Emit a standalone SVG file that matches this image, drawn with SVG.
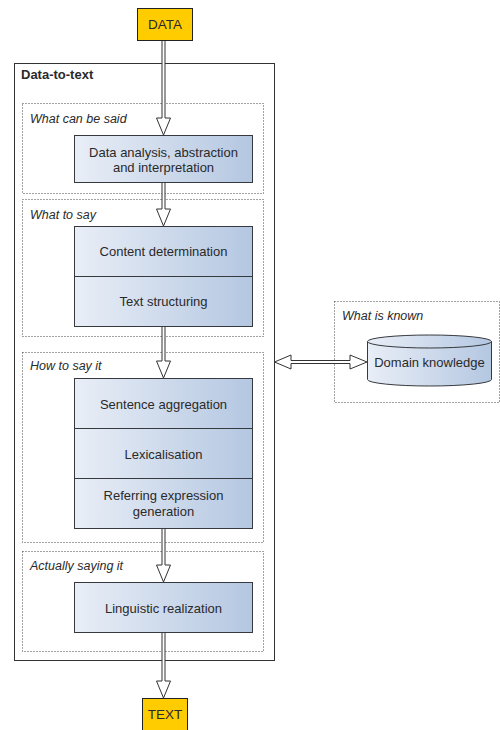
<svg xmlns="http://www.w3.org/2000/svg" width="500" height="730" viewBox="0 0 500 730">
<defs>
<linearGradient id="g" x1="0" y1="0" x2="1" y2="0">
<stop offset="0" stop-color="#e9eef7"/>
<stop offset="1" stop-color="#b4c7e1"/>
</linearGradient>
<linearGradient id="gc" x1="0" y1="0" x2="1" y2="0">
<stop offset="0" stop-color="#e9eef7"/>
<stop offset="1" stop-color="#b4c7e1"/>
</linearGradient>
</defs>
<style>
text{font-family:"Liberation Sans",Arial,sans-serif;font-size:13px;fill:#2a2a2a}
.c{text-anchor:middle}
.i{font-style:italic;font-size:12.5px}
.b{font-weight:bold}
.t{font-size:13.5px}
.box{fill:url(#g);stroke:#36393d;stroke-width:1}
.term{fill:#ffcc00;stroke:#222;stroke-width:1}
.grp{fill:none;stroke:#444;stroke-width:1;stroke-dasharray:1 2}
.arr{fill:#fff;stroke:#333;stroke-width:1;stroke-linejoin:miter}
</style>
<rect width="500" height="730" fill="#fff"/>
<g id="container">
<rect x="14.5" y="63.5" width="260" height="597" fill="#fff" stroke="#333" stroke-width="1"/>
<text class="b" x="21" y="79">Data-to-text</text>
</g>
<g id="group-said">
<rect class="grp" x="22.5" y="103.5" width="241" height="90"/>
<text class="i" x="30" y="123">What can be said</text>
</g>
<g id="group-what">
<rect class="grp" x="22.5" y="199.5" width="241" height="137"/>
<text class="i" x="30" y="219">What to say</text>
</g>
<g id="group-how">
<rect class="grp" x="22.5" y="352.5" width="241" height="190"/>
<text class="i" x="30" y="370">How to say it</text>
</g>
<g id="group-actually">
<rect class="grp" x="22.5" y="551.5" width="241" height="100"/>
<text class="i" x="30" y="570">Actually saying it</text>
</g>
<g id="group-known">
<rect class="grp" x="334.5" y="301.5" width="165" height="101"/>
<text class="i" x="342" y="320">What is known</text>
</g>
<g id="connectors">
<path class="arr" d="M162,40 L162,118 L156.5,118 L163.5,135 L170.5,118 L165,118 L165,40"/>
<path class="arr" d="M162,182 L162,209 L156.5,209 L163.5,226 L170.5,209 L165,209 L165,182"/>
<path class="arr" d="M162,326 L162,361 L156.5,361 L163.5,378 L170.5,361 L165,361 L165,326"/>
<path class="arr" d="M162,528 L162,565 L156.5,565 L163.5,582 L170.5,565 L165,565 L165,528"/>
<path class="arr" d="M162,632 L162,681 L156.5,681 L163.5,698 L170.5,681 L165,681 L165,632"/>
<path class="arr" d="M274.5,362 L291,355 L291,360.5 L350,360.5 L350,355 L367,362 L350,369 L350,363.5 L291,363.5 L291,369 Z"/>
</g>
<g id="data">
<rect class="term" x="137.5" y="8.5" width="55" height="32"/>
<text class="c t" x="165" y="29">DATA</text>
</g>
<g id="analysis">
<rect class="box" x="74.5" y="135.5" width="178" height="47"/>
<text class="c" x="163.5" y="157">Data analysis, abstraction</text>
<text class="c" x="163.5" y="172">and interpretation</text>
</g>
<g id="content-determination">
<rect class="box" x="74.5" y="226.5" width="178" height="50"/>
<text class="c" x="163.5" y="255.5">Content determination</text>
</g>
<g id="text-structuring">
<rect class="box" x="74.5" y="276.5" width="178" height="50"/>
<text class="c" x="163.5" y="305.5">Text structuring</text>
</g>
<g id="sentence-aggregation">
<rect class="box" x="74.5" y="378.5" width="178" height="50"/>
<text class="c" x="163.5" y="408.5">Sentence aggregation</text>
</g>
<g id="lexicalisation">
<rect class="box" x="74.5" y="428.5" width="178" height="50"/>
<text class="c" x="163.5" y="458.5">Lexicalisation</text>
</g>
<g id="referring">
<rect class="box" x="74.5" y="478.5" width="178" height="50"/>
<text class="c" x="163.5" y="500">Referring expression</text>
<text class="c" x="163.5" y="516">generation</text>
</g>
<g id="realization">
<rect class="box" x="74.5" y="582.5" width="178" height="50"/>
<text class="c" x="163.5" y="612.5">Linguistic realization</text>
</g>
<g id="text-out">
<rect class="term" x="142.5" y="698.5" width="45" height="32"/>
<text class="c t" x="165" y="719">TEXT</text>
</g>
<g id="domain-knowledge">
<path d="M367.5,341.5 A62,6.5 0 0 1 491.5,341.5 L491.5,379.5 A62,6.5 0 0 1 367.5,379.5 Z" fill="url(#gc)" stroke="#36393d"/>
<path d="M367.5,341.5 A62,6.5 0 0 0 491.5,341.5" fill="none" stroke="#36393d"/>
<text class="c" x="429.5" y="366.5">Domain knowledge</text>
</g>
</svg>
